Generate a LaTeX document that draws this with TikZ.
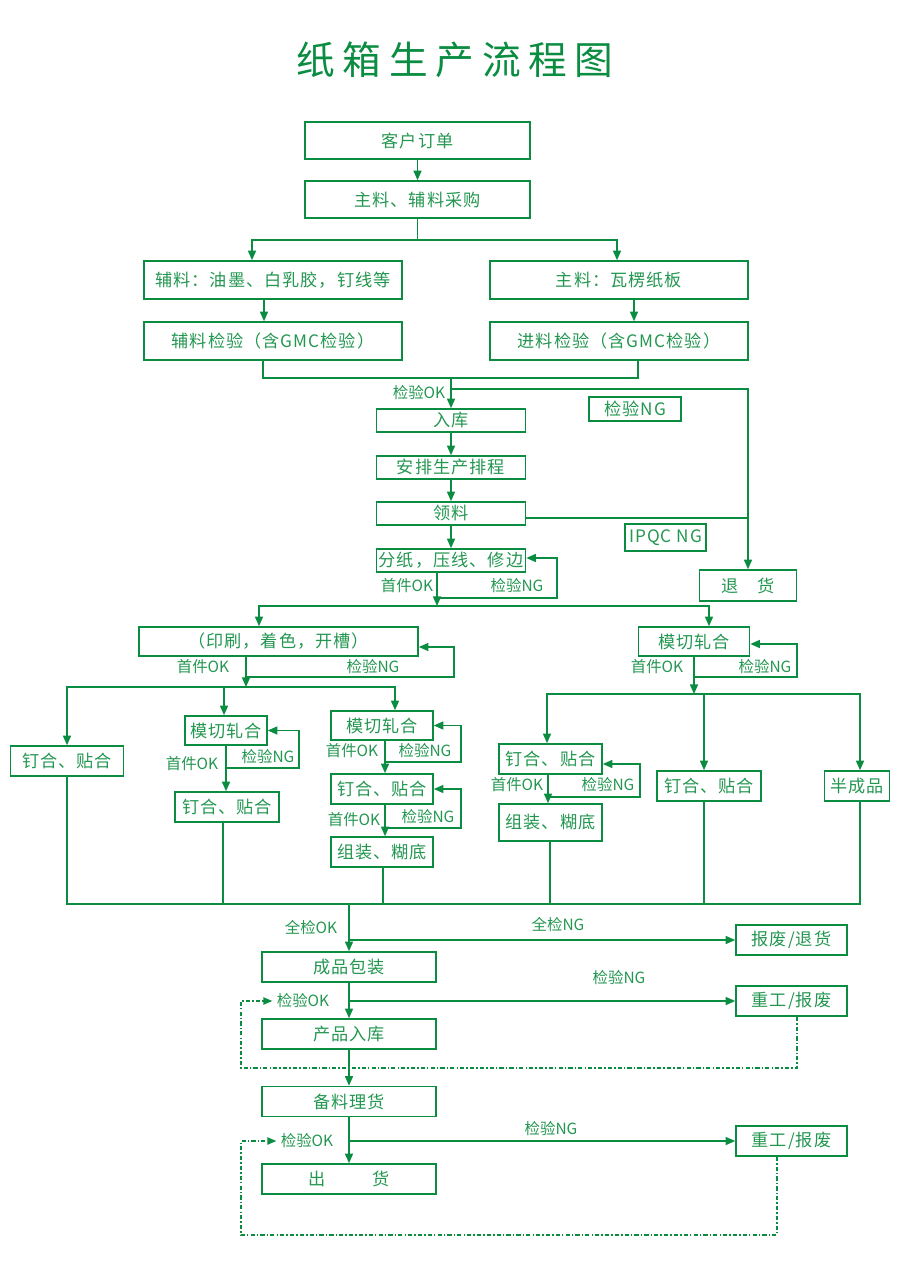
\documentclass[tikz,border=0pt]{standalone}
\usepackage{fontspec}
\setmainfont{Noto Sans CJK SC}
\newfontfamily\titlefont[LetterSpace=20]{Noto Sans CJK SC}
\newfontfamily\boxfont[LetterSpace=6]{Noto Sans CJK SC}
\usetikzlibrary{arrows.meta}
\definecolor{flowgreen}{RGB}{10,140,65}
\definecolor{textgreen}{RGB}{35,150,80}
\tikzset{
  box/.style={draw=flowgreen, line width=1.1pt, inner sep=0pt, minimum height=0.75cm, text=textgreen, font=\boxfont\fontsize{12.2}{14}\selectfont},
  lab/.style={text=textgreen, font=\fontsize{11}{13}\selectfont, inner sep=0pt},
  link/.style={draw=flowgreen, line width=1.1pt},
  arr/.style={link, -{Triangle[length=2.4mm,width=2mm]}},
  redo/.style={link, line width=0.9pt, dash pattern=on 3pt off 1.5pt on 1pt off 1.5pt, -{Triangle[length=2.2mm,width=1.8mm]}, shorten >=3pt}
}
\begin{document}
\begin{tikzpicture}[x=0.025cm, y=-0.025cm]
  \useasboundingbox (0,0) rectangle (900,1266);
  \node[text=flowgreen, font=\titlefont\fontsize{27.5}{32}\selectfont] (title) at (455,60) {纸箱生产流程图};

  \node[box, minimum width=5.625cm, minimum height=0.925cm] (order) at (417.5,140.5) {客户订单};
  \node[box, minimum width=5.625cm, minimum height=0.925cm] (buy) at (417.5,199.5) {主料、辅料采购};
  \node[box, minimum width=6.45cm, minimum height=0.95cm] (aux) at (273,280) {辅料：油墨、白乳胶，钉线等};
  \node[box, minimum width=6.45cm, minimum height=0.95cm] (main) at (619,280) {主料：瓦楞纸板};
  \node[box, minimum width=6.45cm, minimum height=0.95cm] (auxchk) at (273,341) {辅料检验（含GMC检验）};
  \node[box, minimum width=6.45cm, minimum height=0.95cm] (mainchk) at (619,341) {进料检验（含GMC检验）};

  \node[box, minimum width=3.725cm, minimum height=0.575cm] (store) at (451,420.5) {入库};
  \node[box, minimum width=3.725cm, minimum height=0.575cm] (plan) at (451,467.5) {安排生产排程};
  \node[box, minimum width=3.725cm, minimum height=0.575cm] (pick) at (451,513.5) {领料};
  \node[box, minimum width=3.725cm, minimum height=0.575cm] (cut) at (451,560.5) {分纸，压线、修边};
  \node[box, minimum width=2.3cm, minimum height=0.6cm] (ngbox) at (635,409) {检验NG};
  \node[box, minimum width=2.025cm, minimum height=0.675cm] (ipqc) at (665.5,537.5) {IPQC NG};
  \node[box, minimum width=2.425cm, minimum height=0.775cm] (ret) at (748,585.5) {退\hspace{1.1em}货};

  \node[box, minimum width=6.975cm, minimum height=0.725cm] (print) at (278.5,641.5) {（印刷，着色，开槽）};
  \node[box, minimum width=2.775cm, minimum height=0.725cm] (dieR) at (694,641.5) {模切轧合};

  \node[box, minimum width=2.825cm] (nailL) at (67,761) {钉合、贴合};
  \node[box, minimum width=2.05cm, minimum height=0.725cm] (dieM) at (226,730.5) {模切轧合};
  \node[box, minimum width=2.6cm] (nailM) at (227,807) {钉合、贴合};
  \node[box, minimum width=2.55cm, minimum height=0.725cm] (dieC) at (382,725.5) {模切轧合};
  \node[box, minimum width=2.55cm] (nailC) at (382,789) {钉合、贴合};
  \node[box, minimum width=2.55cm] (glueC) at (382,852) {组装、糊底};
  \node[box, minimum width=2.575cm] (nailD) at (550.5,759) {钉合、贴合};
  \node[box, minimum width=2.575cm, minimum height=0.925cm] (glueD) at (550.5,822.5) {组装、糊底};
  \node[box, minimum width=2.6cm] (nailE) at (709,786) {钉合、贴合};
  \node[box, minimum width=1.625cm] (semi) at (857,786) {半成品};

  \node[box, minimum width=4.35cm] (pack) at (349,967) {成品包装};
  \node[box, minimum width=4.35cm] (stock) at (349,1034) {产品入库};
  \node[box, minimum width=4.35cm] (prep) at (349,1101.5) {备料理货};
  \node[box, minimum width=4.35cm] (ship) at (349,1179) {出\hspace{2.7em}货};
  \node[box, minimum width=2.775cm] (scrap) at (791.5,940) {报废/退货};
  \node[box, minimum width=2.775cm] (rework1) at (791.5,1001) {重工/报废};
  \node[box, minimum width=2.775cm] (rework2) at (791.5,1141) {重工/报废};

  \node[lab] (labA) at (419,393) {检验OK};
  \node[lab] at (407,586) {首件OK};
  \node[lab] at (517,586) {检验NG};
  \node[lab] at (203,667) {首件OK};
  \node[lab] at (373,667) {检验NG};
  \node[lab] at (657,667) {首件OK};
  \node[lab] at (765,667) {检验NG};
  \node[lab] at (192,764) {首件OK};
  \node[lab] at (268,757) {检验NG};
  \node[lab] at (352,751) {首件OK};
  \node[lab] at (425,751) {检验NG};
  \node[lab] at (354,820) {首件OK};
  \node[lab] at (428,817) {检验NG};
  \node[lab] at (517,785) {首件OK};
  \node[lab] at (608,785) {检验NG};
  \node[lab] at (311,928) {全检OK};
  \node[lab] at (558,925) {全检NG};
  \node[lab] (labC) at (303,1001) {检验OK};
  \node[lab] at (619,978) {检验NG};
  \node[lab] (labD) at (307,1141) {检验OK};
  \node[lab] at (551,1129) {检验NG};

  \coordinate (split1) at (417.5,240);
  \coordinate (merge1) at (451,378);
  \coordinate (okA) at (451,389);
  \coordinate (joinA) at (748,518);
  \coordinate (cutok) at (437,598);
  \coordinate (split2) at (437,606);
  \coordinate (printok) at (246,677);
  \coordinate (split3) at (246,687);
  \coordinate (dieRok) at (694,677);
  \coordinate (split4) at (694,694);
  \coordinate (dieMok) at (226,768);
  \coordinate (dieCok) at (385,762);
  \coordinate (nailCok) at (385,828);
  \coordinate (nailDok) at (548,797);
  \coordinate (merge2) at (349,904);
  \coordinate (okB) at (349,940);
  \coordinate (okC) at (349,1001);
  \coordinate (okD) at (349,1141);

  \draw[arr] (order) -- (buy);
  \draw[link] (buy) -- (split1);
  \draw[arr] (split1) -| (aux.north -| 252,0);
  \draw[arr] (split1) -| (main.north -| 617,0);
  \draw[arr] (aux.south -| 264,0) -- (auxchk.north -| 264,0);
  \draw[arr] (main.south -| 634,0) -- (mainchk.north -| 634,0);
  \draw[link] (auxchk.south -| 263,0) |- (merge1) -| (mainchk.south -| 638,0);
  \draw[arr] (merge1) -- (store);
  \draw[arr] (okA) -| (ret);
  \draw[link] (pick.east |- joinA) -- (joinA);
  \draw[arr] (store) -- (plan);
  \draw[arr] (plan) -- (pick);
  \draw[arr] (pick) -- (cut);
  \draw[arr] (cut.south -| split2) -- (split2);
  \draw[arr] (cutok) -- (557,598) |- (cut.east |- 0,558);
  \draw[arr] (split2) -| (print.north -| 259,0);
  \draw[arr] (split2) -| (dieR.north -| 709,0);

  \draw[arr] (print.south -| split3) -- (split3);
  \draw[arr] (printok) -- (454,677) |- (print.east |- 0,647);
  \draw[arr] (split3) -| (nailL);
  \draw[arr] (split3) -| (dieM.north -| 224,0);
  \draw[arr] (split3) -| (dieC.north -| 395,0);
  \draw[arr] (dieM.south -| dieMok) -- (nailM.north -| dieMok);
  \draw[arr] (dieMok) -- (299,768) |- (dieM.east);
  \draw[arr] (dieC.south -| dieCok) -- (nailC.north -| dieCok);
  \draw[arr] (dieCok) -- (461,762) |- (dieC.east);
  \draw[arr] (nailC.south -| nailCok) -- (glueC.north -| nailCok);
  \draw[arr] (nailCok) -- (461,828) |- (nailC.east);

  \draw[arr] (dieR) -- (split4);
  \draw[arr] (dieRok) -- (797,677) |- (dieR.east |- 0,644);
  \draw[arr] (split4) -| (nailD.north -| 547,0);
  \draw[arr] (split4) -| (nailE.north -| 704,0);
  \draw[arr] (split4) -| (semi.north -| 860,0);
  \draw[arr] (nailD.south -| nailDok) -- (glueD.north -| nailDok);
  \draw[arr] (nailDok) -- (640,797) |- (nailD.east |- 0,764);

  \draw[link] (nailL) |- (merge2) -| (semi.south -| 860,0);
  \draw[link] (nailM.south -| 223,0) |- (merge2);
  \draw[link] (glueC.south -| 383,0) |- (merge2);
  \draw[link] (glueD.south -| 550,0) |- (merge2);
  \draw[link] (nailE.south -| 704,0) |- (merge2);

  \draw[arr] (merge2) -- (pack);
  \draw[arr] (okB) -- (scrap);
  \draw[arr] (pack) -- (stock);
  \draw[arr] (okC) -- (rework1);
  \draw[redo] (rework1.south -| 797,0) |- (241,1068) |- (labC.west);
  \draw[arr] (stock) -- (prep);
  \draw[arr] (prep) -- (ship);
  \draw[arr] (okD) -- (rework2);
  \draw[redo] (rework2.south -| 777,0) |- (241,1235) |- (labD.west);
\end{tikzpicture}
\end{document}
